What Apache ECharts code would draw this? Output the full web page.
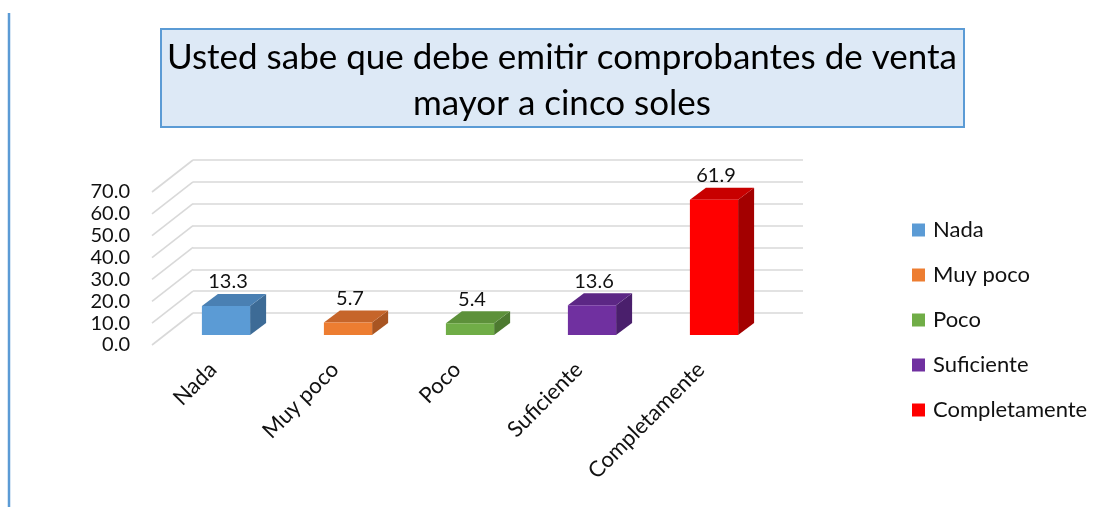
<!DOCTYPE html>
<html>
<head>
<meta charset="utf-8">
<script src="https://cdn.jsdelivr.net/npm/echarts@6/dist/echarts.min.js"></script>
<style>
  html, body { margin: 0; padding: 0; background: #fff; }
  #chart { width: 1103px; height: 507px; }
</style>
</head>
<body>
<div id="chart"></div>
<script>
// data
const categories = ['Nada', 'Muy poco', 'Poco', 'Suficiente', 'Completamente'];
const values = [13.3, 5.7, 5.4, 13.6, 61.9];
const tickValues = [0, 10, 20, 30, 40, 50, 60, 70];
const frontColors = ['#5b9bd5', '#ed7d31', '#70ad47', '#7030a0', '#ff0000'];
const topColors = ['#4a80b3', '#c6652a', '#5d913a', '#5c2785', '#c80000'];
const sideColors = ['#3d6b96', '#a85522', '#4d7a30', '#4a1f6c', '#a30000'];

const FONT = 'Lato';
// depth offsets (px): bar front face vs front plane, bar depth, wall depth
const FX = 13, FY = -10;
const DX = 16, DY = -12;
const WX = 41, WY = -32;

const chart = echarts.init(document.getElementById('chart'));

function barItem(i) {
  return function (params, api) {
    const idx = api.value(0);
    const val = api.value(1);
    const p0 = api.coord([idx, 0]);
    const p1 = api.coord([idx, val]);
    const bw = api.size([1, 0])[0] * 0.395;
    const x0 = p0[0] + FX - bw / 2;
    const x1 = x0 + bw;
    const yb = p0[1] + FY;
    const yt = p1[1] + FY;
    return {
      type: 'group',
      children: [
        {
          type: 'polygon',
          shape: { points: [[x1, yt], [x1, yb], [x1 + DX, yb + DY], [x1 + DX, yt + DY]] },
          style: { fill: sideColors[i] }
        },
        {
          type: 'polygon',
          shape: { points: [[x0, yt], [x1, yt], [x1 + DX, yt + DY], [x0 + DX, yt + DY]] },
          style: { fill: topColors[i] }
        },
        {
          type: 'rect',
          shape: { x: x0, y: yt, width: bw, height: yb - yt },
          style: { fill: frontColors[i] }
        },
        {
          type: 'text',
          x: (x0 + x1) / 2 + 2,
          y: yt + DY - 2,
          style: {
            text: val.toFixed(1),
            font: '20px ' + FONT,
            fill: '#111',
            align: 'center',
            verticalAlign: 'bottom'
          }
        }
      ]
    };
  };
}

// diagonal lines of the side wall, one per tick
function sideWall(params, api) {
  const v = api.value(0);
  const p = api.coord([0, v]);
  const x = params.coordSys.x;
  return {
    type: 'line',
    shape: { x1: x, y1: p[1], x2: x + WX, y2: p[1] + WY },
    style: { stroke: '#d9d9d9', lineWidth: 1.6 }
  };
}

const series = categories.map((name, i) => ({
  name: name,
  type: 'custom',
  xAxisIndex: 0,
  yAxisIndex: 0,
  color: frontColors[i],
  renderItem: barItem(i),
  data: [[i, values[i]]],
  z: 3
}));

series.push({
  type: 'custom',
  name: 'wall',
  xAxisIndex: 0,
  yAxisIndex: 0,
  renderItem: sideWall,
  data: tickValues.map(v => [v]),
  encode: { y: 0 },
  silent: true,
  z: 1
});

const option = {
  animation: false,
  backgroundColor: '#fff',
  grid: [
    { left: 152, top: 192, width: 610, height: 153 },
    { left: 152 + WX, top: 192 + WY, width: 610, height: 153 }
  ],
  xAxis: [
    {
      type: 'category',
      gridIndex: 0,
      data: categories,
      axisLine: { show: false },
      axisTick: { show: false },
      axisLabel: {
        rotate: 45,
        margin: 21,
        interval: 0,
        fontFamily: FONT,
        fontSize: 22,
        color: '#111'
      }
    },
    {
      type: 'category',
      gridIndex: 1,
      data: categories,
      show: false
    }
  ],
  yAxis: [
    {
      type: 'value',
      gridIndex: 0,
      min: 0,
      max: 70,
      interval: 10,
      axisLine: { show: false },
      axisTick: { show: false },
      splitLine: { show: false },
      axisLabel: {
        margin: 22,
        fontFamily: FONT,
        fontSize: 20,
        color: '#111',
        formatter: v => v.toFixed(1)
      }
    },
    {
      type: 'value',
      gridIndex: 1,
      min: 0,
      max: 70,
      interval: 10,
      axisLine: { show: false },
      axisTick: { show: false },
      axisLabel: { show: false },
      splitLine: { show: true, lineStyle: { color: '#d9d9d9', width: 1.6 } }
    }
  ],
  legend: {
    orient: 'vertical',
    left: 912,
    top: 219,
    padding: 0,
    itemWidth: 13,
    itemHeight: 13,
    itemGap: 23,
    icon: 'rect',
    data: categories,
    textStyle: {
      fontFamily: FONT,
      fontSize: 22,
      color: '#111',
      padding: [0, 0, 0, 3]
    }
  },
  graphic: [
    {
      type: 'line',
      shape: { x1: 9, y1: 13, x2: 9, y2: 507 },
      style: { stroke: '#5b9bd5', lineWidth: 2.5 }
    },
    {
      type: 'rect',
      shape: { x: 161, y: 29, width: 803, height: 98 },
      style: { fill: '#dde9f6', stroke: '#5b9bd5', lineWidth: 2 }
    },
    {
      type: 'text',
      x: 562,
      y: 81,
      style: {
        text: 'Usted sabe que debe emitir comprobantes de venta\nmayor a cinco soles',
        font: '35px ' + FONT,
        lineHeight: 46,
        fill: '#000',
        align: 'center',
        verticalAlign: 'middle'
      }
    }
  ],
  series: series
};

chart.setOption(option);
</script>
</body>
</html>
